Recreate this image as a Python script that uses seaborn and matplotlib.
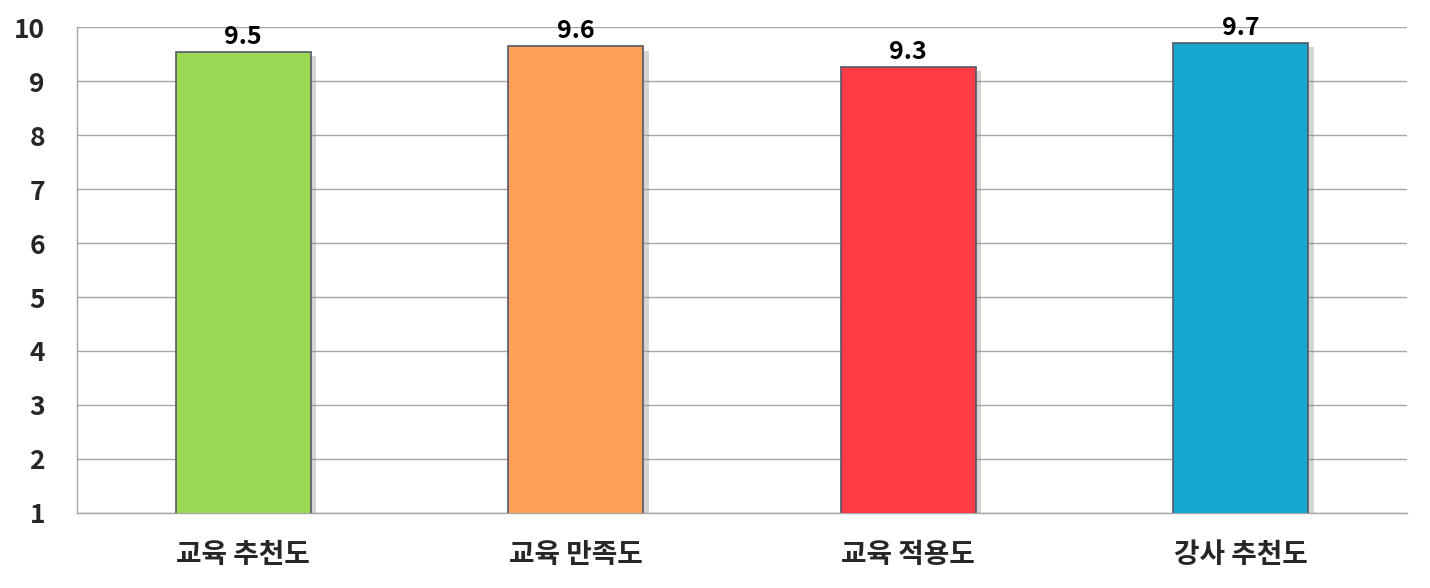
import matplotlib
matplotlib.use('Agg')
import matplotlib.pyplot as plt
import matplotlib.patheffects as pe
import seaborn as sns
import pandas as pd

# 데이터
categories = ['교육 추천도', '교육 만족도', '교육 적용도', '강사 추천도']
scores = [9.54, 9.64, 9.26, 9.70]
colors = ['#9BD853', '#FFA057', '#FF3C46', '#17A7CF']

df = pd.DataFrame({'항목': categories, '점수': scores})

sns.set_style('white')
plt.rcParams['font.family'] = ['Noto Sans CJK KR', 'DejaVu Sans']

fig = plt.figure(figsize=(14.3, 5.88), dpi=100)
ax = fig.add_axes([0.0538, 0.1276, 0.9301, 0.8264])

sns.barplot(data=df, x='항목', y='점수', hue='항목', palette=colors,
            saturation=1, width=0.406, legend=False, ax=ax, zorder=3,
            edgecolor='#55586a', linewidth=1.2)

for bar in ax.patches:
    bar.set_path_effects([pe.SimplePatchShadow(offset=(4, -3), shadow_rgbFace='#888888',
                                               alpha=0.35),
                          pe.Normal()])

for bar, v in zip(ax.patches, scores):
    ax.text(bar.get_x() + bar.get_width() / 2, v + 0.06, f'{v:.1f}',
            ha='center', va='bottom', fontsize=18, fontweight='bold', color='black')

ax.set_ylim(1, 10)
ax.set_yticks(range(1, 11))
ax.set_xlim(-0.5, 3.5)
ax.yaxis.grid(True, color='#a6a6a6', linewidth=1, zorder=0)
ax.set_axisbelow(True)

ax.set_xlabel('')
ax.set_ylabel('')
ax.tick_params(axis='y', labelsize=19, length=7, color='#a6a6a6', pad=16, width=1)
ax.tick_params(axis='x', which='major', labelsize=20, length=0, pad=20)
ax.set_xticks([-0.5, 0.5, 1.5, 2.5, 3.5], minor=True)
ax.tick_params(axis='x', which='minor', length=8, color='#a6a6a6', width=1)
for lab in ax.get_xticklabels() + ax.get_yticklabels():
    lab.set_fontweight('bold')

for s in ['top', 'right']:
    ax.spines[s].set_visible(False)
for s in ['left', 'bottom']:
    ax.spines[s].set_color('#a6a6a6')
    ax.spines[s].set_linewidth(1)

plt.savefig('out.png', dpi=100)
